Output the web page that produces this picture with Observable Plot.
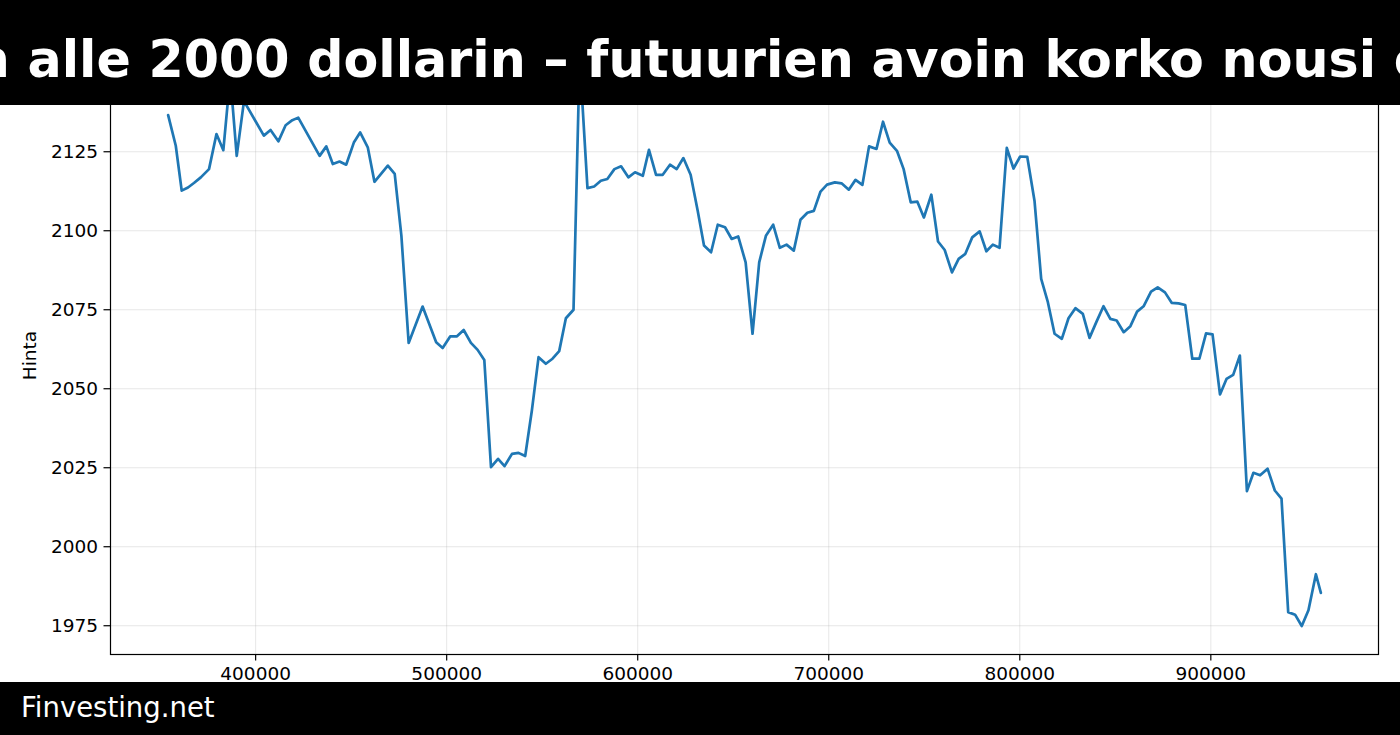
<!DOCTYPE html>
<html>
<head>
<meta charset="utf-8">
<script src="https://cdn.jsdelivr.net/npm/d3@7"></script>
<script src="https://cdn.jsdelivr.net/npm/@observablehq/plot@0.6"></script>
<style>
html, body { margin: 0; padding: 0; background: #fff; }
#fig { position: relative; width: 1400px; height: 735px; overflow: hidden; background: #fff; font-family: "DejaVu Sans", sans-serif; }
#chart { position: absolute; left: 0; top: 0; }
#banner { position: absolute; left: 0; top: 0; width: 1400px; height: 105px; background: #000; overflow: hidden; }
#title { position: absolute; top: 35px; left: 0; margin: 0; white-space: nowrap; color: #fff; font-family: "DejaVu Sans", sans-serif; font-weight: bold; font-size: 50.7px; line-height: 50.7px; }
#footer { position: absolute; left: 0; top: 682px; width: 1400px; height: 53px; background: #000; }
#source { position: absolute; left: 21px; top: 12px; margin: 0; color: #fff; font-family: "DejaVu Sans", sans-serif; font-size: 27.5px; line-height: 27.5px; white-space: nowrap; }
</style>
</head>
<body>
<div id="fig">
  <div id="chart"></div>
  <div id="banner"><h1 id="title"></h1></div>
  <div id="footer"><p id="source">Finvesting.net</p></div>
</div>
<script>
// ---- data ----
const titleLead = "Kulta painui ensimmäistä kertaa kuukausiin ";
const titleRest = "alle 2000 dollarin – futuurien avoin korko nousi edelleen";
const yLabel = "Hinta";

const xValues = [354200,358200,361300,364600,367700,371300,375600,379500,383100,386700,390100,393900,404300,407800,411900,415700,419200,422300,433500,437000,440400,443900,447400,451400,454700,458700,462200,469200,472800,476300,480100,487400,494500,497900,501900,505400,508900,512700,516200,519700,523200,526900,530300,534200,537600,541100,544600,548100,551900,555400,558900,562400,566400,569600,573700,577200,580700,584100,587800,591300,595100,598600,602700,605900,609600,613100,616900,620400,623900,627700,631400,634700,638400,641900,645700,649200,652600,656500,660100,663600,667100,670900,674400,677900,681700,685200,688800,692200,695700,699100,703200,706700,710500,714000,717600,721100,725000,728400,731900,735700,739200,742900,746400,749800,753700,757200,760700,764500,768000,771500,775100,779000,782500,785900,789400,793200,796700,800200,803900,807700,811200,814700,818200,822000,825500,829100,833000,836500,840000,843800,847400,850700,854400,857900,861400,864800,868700,872200,876000,879500,883100,886600,890300,894000,897500,900900,904800,908200,911700,915200,918900,922300,925800,929700,933500,937000,940500,944100,947600,951100,955000,957600];

const prices = [2136.6,2126.9,2112.7,2113.7,2115.1,2116.9,2119.5,2130.6,2125.5,2149,2123.7,2141,2130.1,2131.9,2128.3,2133.4,2135.0,2135.8,2123.7,2126.7,2121.1,2121.9,2120.9,2127.9,2131.1,2126.4,2115.5,2120.6,2118.0,2098.4,2064.5,2076.0,2064.7,2062.9,2066.6,2066.6,2068.6,2064.5,2062.3,2059.1,2025.2,2027.8,2025.5,2029.4,2029.7,2028.7,2043.1,2060.0,2057.9,2059.5,2061.9,2072.3,2075.0,2155,2113.5,2114.0,2115.8,2116.4,2119.5,2120.4,2116.9,2118.5,2117.4,2125.6,2117.7,2117.7,2120.9,2119.5,2123.0,2117.7,2106.3,2095.3,2093.2,2101.9,2101.1,2097.4,2098.2,2090.0,2067.4,2090.0,2098.4,2101.9,2094.6,2095.6,2093.7,2103.5,2105.7,2106.3,2112.4,2114.6,2115.3,2115.0,2113.0,2116.1,2114.5,2126.7,2125.9,2134.5,2127.9,2125.3,2119.5,2109.0,2109.2,2104.2,2111.4,2096.6,2093.9,2086.8,2091.1,2092.7,2097.9,2099.8,2093.5,2095.6,2094.6,2126.2,2119.7,2123.5,2123.4,2109.5,2084.8,2077.4,2067.4,2065.8,2072.3,2075.5,2073.7,2066.1,2071.0,2076.1,2072.1,2071.6,2067.9,2069.8,2074.4,2076.1,2080.7,2082.1,2080.5,2077.2,2077.0,2076.5,2059.5,2059.5,2067.5,2067.2,2048.2,2053.1,2054.4,2060.5,2017.6,2023.4,2022.6,2024.7,2017.8,2015.2,1979.3,1978.5,1974.9,1979.9,1991.3,1985.4];

const xTicks = [400000, 500000, 600000, 700000, 800000, 900000];
const yTicks = [1975, 2000, 2025, 2050, 2075, 2100, 2125];

// ---- table built from the arrays ----
const rows = xValues.map((x, i) => ({x, price: prices[i]}));

// matplotlib-like 5% margins around the data
function padded(values) {
  const [lo, hi] = d3.extent(values);
  const p = (hi - lo) * 0.05;
  return [lo - p, hi + p];
}

const grid = {stroke: "#b0b0b0", strokeOpacity: 0.3, strokeWidth: 1};

const chart = Plot.plot({
  width: 1400,
  height: 735,
  marginTop: 28,
  marginBottom: 81,
  marginLeft: 110,
  marginRight: 22,
  style: {fontFamily: "DejaVu Sans", fontSize: "18.5px", color: "black", background: "white"},
  x: {domain: padded(xValues)},
  y: {domain: padded(prices)},
  marks: [
    Plot.gridX(xTicks, grid),
    Plot.gridY(yTicks, grid),
    Plot.line(rows, {x: "x", y: "price", stroke: "#1f77b4", strokeWidth: 2.7, strokeLinejoin: "round"}),
    Plot.axisX(xTicks, {tickSize: 6.5, tickPadding: 6, strokeWidth: 1.2, tickFormat: d => String(d), label: null}),
    Plot.axisY(yTicks, {tickSize: 6.5, tickPadding: 6, strokeWidth: 1.2, tickFormat: d => String(d), label: null}),
    Plot.text([yLabel], {text: d => d, frameAnchor: "left", textAnchor: "middle", dx: -80, dy: 14, rotate: -90, fontSize: 18.5, fill: "black"}),
    Plot.frame({stroke: "black", strokeWidth: 1.2})
  ]
});
document.getElementById("chart").appendChild(chart);

// ---- title: clipped banner, positioned so the visible part lines up ----
const titleEl = document.getElementById("title");
titleEl.textContent = titleLead + titleRest;
const ctx = document.createElement("canvas").getContext("2d");
ctx.font = "bold 50.7px 'DejaVu Sans'";
const leadWidth = ctx.measureText(titleLead).width;
titleEl.style.left = (27.5 - leadWidth) + "px";
</script>
</body>
</html>
